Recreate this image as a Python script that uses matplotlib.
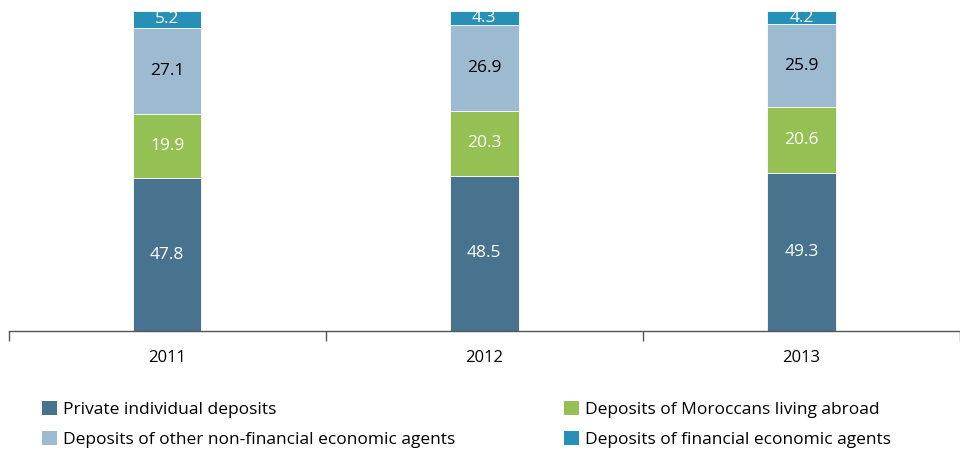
import numpy as np
import matplotlib
matplotlib.use("Agg")
import matplotlib.pyplot as plt
from matplotlib.patches import Patch

plt.rcParams['font.family'] = ['Open Sans', 'DejaVu Sans']

years = ['2011', '2012', '2013']
private_individual = [47.8, 48.5, 49.3]
moroccans_abroad = [19.9, 20.3, 20.6]
other_non_financial = [27.1, 26.9, 25.9]
financial_agents = [5.2, 4.3, 4.2]

series = [
    ('Private individual deposits', private_individual, '#47738f', 'white'),
    ('Deposits of Moroccans living abroad', moroccans_abroad, '#95c154', 'white'),
    ('Deposits of other non-financial economic agents', other_non_financial, '#9dbbd0', 'black'),
    ('Deposits of financial economic agents', financial_agents, '#2690b6', 'white'),
]

fig = plt.figure(figsize=(9.6, 4.5), dpi=100)
ax = fig.add_axes([8.5 / 960, 1 - 331 / 450, 1 - 8.5 / 960, 320 / 450])

x = np.arange(len(years))
bottom = np.zeros(len(years))
handles = {}
for name, vals, color, tcolor in series:
    vals = np.array(vals)
    ax.bar(x, vals, width=0.216, bottom=bottom, color=color,
           edgecolor='white', linewidth=0.6)
    for xi, b, v in zip(x, bottom, vals):
        ax.text(xi, b + v / 2, f'{v:.1f}', ha='center', va='center',
                color=tcolor, fontsize=12.5)
    handles[name] = Patch(facecolor=color)
    bottom += vals

ax.set_xlim(-0.5, 2.473)
ax.set_ylim(0, 100)
for s in ['top', 'right', 'left']:
    ax.spines[s].set_visible(False)
ax.spines['bottom'].set_color('#555555')
ax.spines['bottom'].set_linewidth(1.0)
ax.set_yticks([])

# category boundaries carry the tick marks, labels sit in the middle
ax.set_xticks([-0.5, 0.5, 1.5, 2.5])
ax.set_xticklabels([])
ax.tick_params(axis='x', which='major', length=7, width=1, color='#555555')
ax.set_xticks(x, minor=True)
ax.set_xticklabels(years, minor=True, fontsize=12)
ax.tick_params(axis='x', which='minor', length=0, pad=14)

left_names = [series[0][0], series[2][0]]
right_names = [series[1][0], series[3][0]]
for names, xpos in [(left_names, 42 / 960), (right_names, 564 / 960)]:
    fig.legend([handles[n] for n in names], names, loc='upper left',
               bbox_to_anchor=(xpos, 1 - 401 / 450), frameon=False,
               fontsize=12.5, handlelength=0.85, handleheight=0.85,
               handletextpad=0.35, labelspacing=0.75, borderaxespad=0,
               borderpad=0)

fig.savefig('out.png', dpi=100)
